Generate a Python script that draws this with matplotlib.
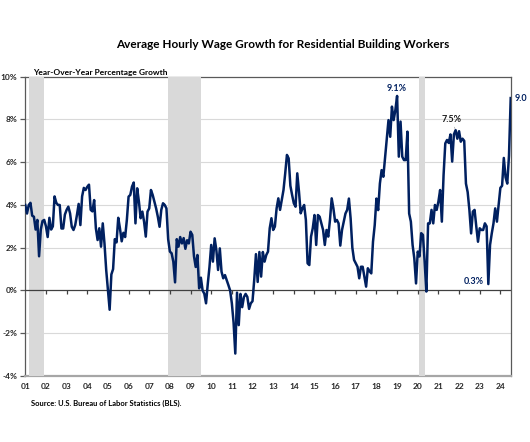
import matplotlib
matplotlib.use("Agg")
import matplotlib.pyplot as plt
import numpy as np

plt.rcParams['font.family'] = ['Lato', 'DejaVu Sans']

# Year-over-year % growth, monthly, Jan 2001 - Jul 2024
y2001 = [4.0, 3.6, 4.0, 4.1, 3.5, 3.45, 2.85, 3.3, 1.6, 2.85, 3.25, 3.3]
y2002 = [3.0, 2.5, 3.4, 2.85, 3.0, 4.4, 4.1, 4.0, 4.0, 2.9, 2.9, 3.55]
y2003 = [3.77, 3.92, 3.61, 2.98, 2.83, 3.06, 3.53, 4.05, 3.06, 4.4, 4.8, 4.7]
y2004 = [4.85, 4.95, 3.77, 3.7, 4.23, 2.91, 2.36, 2.91, 2.05, 3.14, 2.2, 0.96]
y2005 = [0.05, -0.9, 0.75, 1.0, 2.4, 2.25, 3.4, 2.9, 2.3, 2.7, 2.5, 3.3]
y2006 = [4.39, 4.47, 4.86, 5.05, 3.14, 4.78, 4.16, 3.38, 3.69, 3.22, 2.52, 3.69]
y2007 = [3.84, 4.7, 4.47, 4.16, 3.84, 3.45, 2.98, 3.77, 4.08, 4.0, 3.84, 2.4]
y2008 = [1.82, 1.74, 1.35, 0.38, 2.4, 2.05, 2.5, 2.2, 2.45, 1.95, 2.35, 2.2]
y2009 = [2.75, 2.6, 1.6, 1.1, 1.66, 0.1, 0.6, 0.0, -0.15, -0.6, 0.3, 1.1]
y2010 = [2.13, 1.35, 2.44, 1.89, 0.96, 1.97, 0.88, 0.57, 0.72, 0.49, 0.25, 0.0]
y2011 = [-0.6, -1.5, -2.95, -0.1, -1.62, -0.16, -0.78, -0.31, -0.16, -0.3, -0.86, -0.6]
y2012 = [-0.5, 0.5, 1.7, 0.4, 1.8, 0.65, 1.8, 1.35, 1.66, 1.82, 2.91, 3.38]
y2013 = [2.83, 2.99, 3.84, 4.31, 3.77, 4.23, 4.7, 5.48, 6.34, 6.18, 4.9, 4.47]
y2014 = [4.08, 3.92, 5.48, 4.62, 3.61, 3.84, 4.0, 3.3, 1.27, 1.19, 2.52, 2.91]
y2015 = [3.53, 2.13, 3.53, 3.45, 3.14, 2.83, 2.13, 2.83, 2.52, 3.3, 4.31, 3.84]
y2016 = [3.22, 3.3, 3.14, 2.1, 2.83, 3.22, 3.6, 3.77, 4.3, 3.37, 2.0, 1.43]
y2017 = [1.27, 1.11, 0.57, 1.11, 1.11, 0.65, 0.18, 1.04, 0.9, 0.8, 2.28, 3.06]
y2018 = [4.3, 3.76, 5.0, 5.63, 5.32, 6.2, 7.04, 7.97, 7.19, 8.6, 7.97, 8.44]
y2019 = [9.1, 6.26, 7.9, 6.26, 6.1, 6.1, 7.43, 3.6, 3.22, 2.13, 1.5, 0.33]
y2020 = [1.82, 1.59, 2.68, 2.6, 1.35, -0.05, 3.14, 3.14, 3.77, 3.14, 4.0, 3.77]
y2021 = [4.16, 4.7, 3.22, 5.4, 6.88, 7.04, 6.9, 7.3, 6.03, 7.3, 7.5, 7.1]
y2022 = [7.45, 6.96, 7.1, 7.0, 5.0, 4.6, 3.77, 2.67, 3.69, 3.77, 3.0, 2.28]
y2023 = [2.91, 2.83, 2.83, 3.14, 3.0, 0.3, 2.13, 2.67, 3.14, 3.84, 3.22, 4.0]
y2024 = [4.8, 4.9, 6.2, 5.3, 5.0, 6.3, 9.0]

years = list(range(2001, 2025))
year_labels = ['01', '02', '03', '04', '05', '06', '07', '08', '09', '10', '11', '12',
               '13', '14', '15', '16', '17', '18', '19', '20', '21', '22', '23', '24']
series_by_year = [y2001, y2002, y2003, y2004, y2005, y2006, y2007, y2008, y2009, y2010,
                  y2011, y2012, y2013, y2014, y2015, y2016, y2017, y2018, y2019, y2020,
                  y2021, y2022, y2023, y2024]
values = np.concatenate([np.array(v, dtype=float) for v in series_by_year])
months = np.arange(len(values))  # months since Jan 2001

# Recessions (year, month) start/end
rec_start = [(2001, 3), (2007, 12), (2020, 2)]
rec_end = [(2001, 11), (2009, 6), (2020, 4)]

y_ticks = [-4, -2, 0, 2, 4, 6, 8, 10]

def midx(y, m):
    return (y - 2001) * 12 + (m - 1)

navy = '#002060'

W, H = 530, 442
fig = plt.figure(figsize=(W / 100, H / 100), dpi=100)
left, right, top, bottom = 25.3, 510.7, 76.7, 376.0
ax = fig.add_axes([left / W, 1 - bottom / H, (right - left) / W, (bottom - top) / H])

ax.set_xlim(months[0], months[-1])
ax.set_ylim(-4, 10)

# grid
for yt in y_ticks:
    if yt not in (0, -4, 10):
        ax.axhline(yt, color='#d9d9d9', lw=0.8, zorder=1)

# recession shading
for (sy, sm), (ey, em) in zip(rec_start, rec_end):
    ax.axvspan(midx(sy, sm), midx(ey, em) + 1, color='#d9d9d9', lw=0, zorder=3)

# zero line with tick marks
ax.axhline(0, color='#404040', lw=0.9, zorder=3.5)
year_pos = [midx(y, 1) for y in years]
ax.vlines(year_pos[1:], -0.17, 0, color='#404040', lw=0.9, zorder=3.5)

ax.plot(months, values, color=navy, lw=1.8, zorder=5, solid_joinstyle='round')

# spines
for s in ['top', 'right', 'left']:
    ax.spines[s].set_color('#595959')
    ax.spines[s].set_linewidth(0.9)
ax.spines['bottom'].set_color('#a6a6a6')
ax.spines['bottom'].set_linewidth(1.6)
for s in ax.spines.values():
    s.set_zorder(2.5)

ax.set_yticks(y_ticks)
ax.set_yticklabels([f'{t}%' for t in y_ticks], fontsize=6, fontweight='bold', color='#262626')
ax.tick_params(axis='y', direction='out', length=3.5, width=0.9, color='#595959', pad=2)
ax.set_xticks(year_pos)
ax.set_xticklabels(year_labels, fontsize=6, fontweight='bold', color='#262626')
ax.tick_params(axis='x', length=0, pad=5)

# annotations
i_peak = int(np.argmax(values[:240]))
ax.text(months[i_peak], 9.47, '9.1%', ha='center', va='center', fontsize=6.5,
        fontweight='bold', color=navy, zorder=6)
i_22 = midx(2021, 11)
ax.annotate('7.5%', xy=(months[i_22], values[i_22]), xytext=(months[i_22] - 2.5, 7.98),
            ha='center', va='center', fontsize=6.5, fontweight='bold', color='#1a1a1a',
            arrowprops=dict(arrowstyle='-', color='#a6a6a6', lw=0.5, shrinkA=3, shrinkB=1),
            zorder=6)
i_low = midx(2023, 6)
ax.text(months[i_low] - 8.4, 0.4, '0.3%', ha='center', va='center', fontsize=6.5,
        fontweight='bold', color=navy, zorder=6)
ax.text(months[-1] + 2.4, values[-1] - 0.04, f'{values[-1]:.1f}', ha='left', va='center',
        fontsize=6.5, fontweight='bold', color=navy, clip_on=False, zorder=6)

fig.text(283 / W, 1 - 45 / H, 'Average Hourly Wage Growth for Residential Building Workers',
         ha='center', va='center', fontsize=8.5, fontweight='bold', color='#000000')
fig.text(33 / W, 1 - 72 / H, 'Year-Over-Year Percentage Growth', ha='left', va='center',
         fontsize=6, fontweight='bold', color='#000000')
fig.text(31 / W, 1 - 403 / H, 'Source: U.S. Bureau of Labor Statistics (BLS).', ha='left',
         va='center', fontsize=5.5, fontweight='bold', color='#000000')

fig.savefig('out.png', dpi=100, facecolor='white')
